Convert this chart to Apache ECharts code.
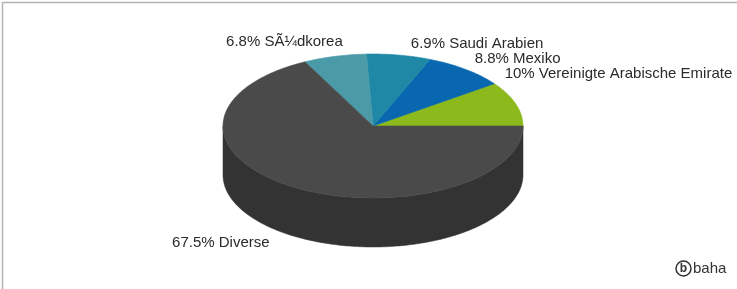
<!DOCTYPE html>
<html>
<head>
<meta charset="utf-8">
<script src="https://cdn.jsdelivr.net/npm/echarts@6/dist/echarts.min.js"></script>
<style>
  html, body { margin: 0; padding: 0; background: #fff; }
  #main { width: 737px; height: 289px; }
</style>
</head>
<body>
<div id="main"></div>
<script>
// data
const categories = ['Vereinigte Arabische Emirate', 'Mexiko', 'Saudi Arabien', 'SÃ¼dkorea', 'Diverse'];
const shares = [10, 8.8, 6.9, 6.8, 67.5];

// styles
const topColors = ['#8cb91c', '#0867ae', '#1f88a7', '#4a9aa8', '#4a4a4a'];
const wallColors = ['#6a8c14', '#054c82', '#17667d', '#37737e', '#333333'];
// label nudge from the slice's mid point on the rim: [dx, dy, align]
const labelNudge = [[-11, -30, 'left'], [9, -11, 'left'], [12, -11, 'left'], [8, -15, 'right'], [-25, 6, 'right']];

// pie geometry (pixels)
const CX = 373, CY = 126, RX = 150, RY = 72, DEPTH = 49;

const total = shares.reduce((a, b) => a + b, 0);
const starts = [];
let acc = 0;
shares.forEach(v => { starts.push(acc / total * 360); acc += v; });

function pt(deg, dy) {
  const r = deg * Math.PI / 180;
  return [CX + RX * Math.cos(r), CY - RY * Math.sin(r) + (dy || 0)];
}
function arc(a0, a1, dy) {
  const pts = [];
  const n = Math.max(2, Math.ceil(Math.abs(a1 - a0)));
  for (let i = 0; i <= n; i++) pts.push(pt(a0 + (a1 - a0) * i / n, dy));
  return pts;
}

function renderWall(params, api) {
  const i = params.dataIndex;
  const a0 = starts[i];
  const a1 = a0 + api.value(0) / total * 360;
  const lo = Math.max(a0, 180), hi = Math.min(a1, 360);
  if (hi <= lo) return { type: 'group', children: [] };
  const pts = arc(lo, hi, 0).concat(arc(hi, lo, DEPTH));
  return {
    type: 'polygon',
    shape: { points: pts },
    style: { fill: wallColors[i], stroke: wallColors[i], lineWidth: 0.5 }
  };
}

function renderTop(params, api) {
  const i = params.dataIndex;
  const v = api.value(0);
  const a0 = starts[i];
  const a1 = a0 + v / total * 360;
  const mid = (a0 + a1) / 2;
  const lower = Math.sin(mid * Math.PI / 180) < 0;
  const p = pt(mid, lower ? DEPTH : 0);
  const nudge = labelNudge[i];
  return {
    type: 'group',
    children: [
      {
        type: 'polygon',
        shape: { points: [[CX, CY]].concat(arc(a0, a1, 0)) },
        style: { fill: topColors[i], stroke: topColors[i], lineWidth: 0.6 }
      },
      {
        type: 'text',
        x: p[0] + nudge[0],
        y: p[1] + nudge[1],
        style: {
          text: v + '% ' + categories[i],
          fill: '#2a2a2a',
          font: '15px "Liberation Sans", Arial, sans-serif',
          align: nudge[2],
          verticalAlign: 'middle'
        }
      }
    ]
  };
}

const chart = echarts.init(document.getElementById('main'));
chart.setOption({
  animation: false,
  backgroundColor: '#fff',
  graphic: [
    { type: 'rect', shape: { x: 2.5, y: 2.5, width: 800, height: 400 }, style: { fill: 'none', stroke: '#b4b4b4', lineWidth: 1.5 } },
    { type: 'circle', shape: { cx: 683.5, cy: 268.5, r: 7.5 }, style: { fill: '#fff', stroke: '#333', lineWidth: 1.5 } },
    { type: 'text', x: 683.5, y: 268.5, style: { text: 'b', fill: '#333', font: 'bold 12px "Liberation Sans", Arial, sans-serif', align: 'center', verticalAlign: 'middle' } },
    { type: 'text', x: 693, y: 268.5, style: { text: 'baha', fill: '#333', font: '15px "Liberation Sans", Arial, sans-serif', align: 'left', verticalAlign: 'middle' } }
  ],
  series: [
    {
      type: 'custom',
      coordinateSystem: 'none',
      z: 1,
      data: shares.map(v => [v]),
      renderItem: renderWall
    },
    {
      type: 'custom',
      coordinateSystem: 'none',
      z: 2,
      data: shares.map(v => [v]),
      renderItem: renderTop
    }
  ]
});
</script>
</body>
</html>
